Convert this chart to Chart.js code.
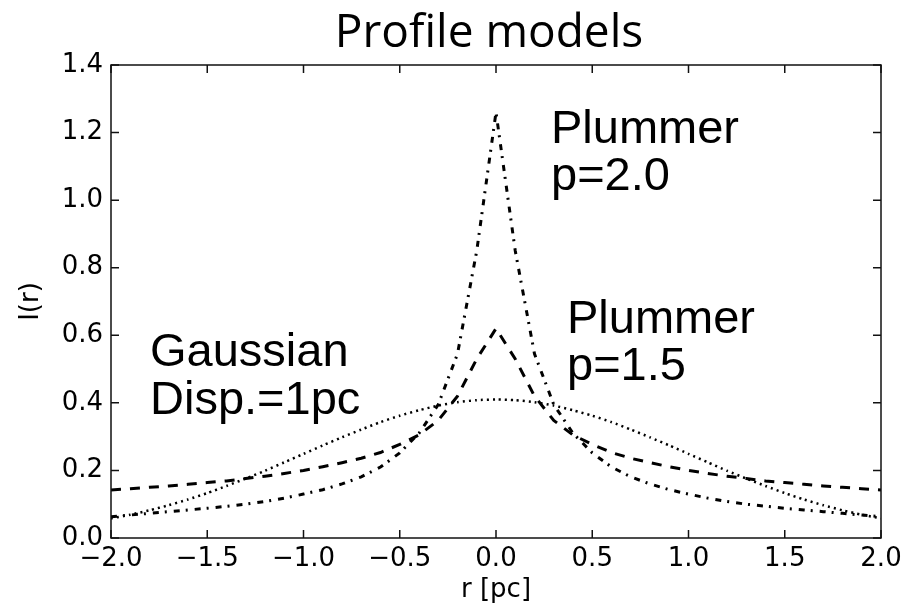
<!DOCTYPE html>
<html>
<head>
<meta charset="utf-8">
<script src="https://cdn.jsdelivr.net/npm/chart.js@4"></script>
<style>
  html, body { margin: 0; padding: 0; background: #fff; }
  #wrap { width: 920px; height: 613px; }
</style>
</head>
<body>
<div id="wrap"><canvas id="profileChart" width="920" height="613"></canvas></div>
<script>
const radius = [-2.0, -1.9, -1.8, -1.7, -1.6, -1.5, -1.4, -1.3, -1.2, -1.1, -1.0, -0.9, -0.8, -0.7, -0.6, -0.5, -0.4, -0.3, -0.2, -0.1,
    0.0, 0.1, 0.2, 0.3, 0.4, 0.5, 0.6, 0.7, 0.8, 0.9, 1.0, 1.1, 1.2, 1.3, 1.4, 1.5, 1.6, 1.7, 1.8, 1.9, 2.0];

const gaussian = [0.058, 0.069, 0.082, 0.097, 0.114, 0.133, 0.154, 0.176, 0.199, 0.224, 0.249, 0.274, 0.298, 0.321, 0.343, 0.362, 0.378, 0.392, 0.402, 0.408,
    0.41, 0.408, 0.402, 0.392, 0.378, 0.362, 0.343, 0.321, 0.298, 0.274, 0.249, 0.224, 0.199, 0.176, 0.154, 0.133, 0.114, 0.097, 0.082, 0.069, 0.058];

const plummer15 = [0.142, 0.146, 0.15, 0.154, 0.159, 0.164, 0.169, 0.176, 0.183, 0.191, 0.2, 0.211, 0.223, 0.236, 0.253, 0.277, 0.305, 0.348, 0.42, 0.53,
    0.62, 0.53, 0.42, 0.348, 0.305, 0.277, 0.253, 0.236, 0.223, 0.211, 0.2, 0.191, 0.183, 0.176, 0.169, 0.164, 0.159, 0.154, 0.15, 0.146, 0.142];

const plummer20 = [0.063, 0.068, 0.073, 0.078, 0.083, 0.088, 0.094, 0.1, 0.108, 0.118, 0.13, 0.143, 0.16, 0.181, 0.21, 0.252, 0.31, 0.395, 0.545, 0.85,
    1.26, 0.85, 0.545, 0.395, 0.31, 0.252, 0.21, 0.181, 0.16, 0.143, 0.13, 0.118, 0.108, 0.1, 0.094, 0.088, 0.083, 0.078, 0.073, 0.068, 0.063];

const xTicks = [-2.0, -1.5, -1.0, -0.5, 0.0, 0.5, 1.0, 1.5, 2.0];
const yTicks = [0.0, 0.2, 0.4, 0.6, 0.8, 1.0, 1.2, 1.4];

const toPoints = (values) => radius.map((r, i) => ({ x: r, y: values[i] }));
const fmt = (v) => v.toFixed(1).replace('-', '\u2212');

const tickFont = { family: 'DejaVu Sans', size: 26 };
const labelFont = '47px "Liberation Sans", Arial, sans-serif';

// matplotlib-like box with inward ticks, plus the text labels
const frame = {
    id: 'frame',
    afterDatasetsDraw(chart) {
        const { ctx, chartArea: a, scales: { x, y } } = chart;
        ctx.save();
        ctx.strokeStyle = '#111';
        ctx.lineWidth = 1.5;
        ctx.strokeRect(a.left, a.top, a.right - a.left, a.bottom - a.top);
        ctx.beginPath();
        xTicks.forEach((t) => {
            const px = x.getPixelForValue(t);
            ctx.moveTo(px, a.bottom); ctx.lineTo(px, a.bottom - 8);
            ctx.moveTo(px, a.top); ctx.lineTo(px, a.top + 8);
        });
        yTicks.forEach((t) => {
            const py = y.getPixelForValue(t);
            ctx.moveTo(a.left, py); ctx.lineTo(a.left + 8, py);
            ctx.moveTo(a.right, py); ctx.lineTo(a.right - 8, py);
        });
        ctx.stroke();

        ctx.fillStyle = '#000';
        ctx.textBaseline = 'alphabetic';
        ctx.textAlign = 'center';
        ctx.font = '46px "Open Sans", "Noto Sans", sans-serif';
        ctx.fillText('Profile models', 489, 47);

        ctx.textAlign = 'left';
        ctx.font = labelFont;
        ctx.fillText('Plummer', 551, 143);
        ctx.fillText('p=2.0', 551, 190);
        ctx.fillText('Plummer', 567, 333);
        ctx.fillText('p=1.5', 567, 380);
        ctx.fillText('Gaussian', 150, 366);
        ctx.fillText('Disp.=1pc', 150, 414);
        ctx.restore();
    }
};

new Chart(document.getElementById('profileChart'), {
    type: 'line',
    data: {
        datasets: [
            {
                label: 'Gaussian',
                data: toPoints(gaussian),
                borderColor: '#000',
                borderWidth: 2.5,
                borderDash: [2, 4],
                pointRadius: 0,
                tension: 0.2
            },
            {
                label: 'Plummer p=1.5',
                data: toPoints(plummer15),
                borderColor: '#000',
                borderWidth: 3,
                borderDash: [10, 9],
                pointRadius: 0,
                tension: 0
            },
            {
                label: 'Plummer p=2.0',
                data: toPoints(plummer20),
                borderColor: '#000',
                borderWidth: 3,
                borderDash: [6, 6, 2, 7],
                pointRadius: 0,
                tension: 0
            }
        ]
    },
    options: {
        responsive: false,
        animation: false,
        layout: { padding: { top: 65, right: 39, left: 0, bottom: 0 } },
        plugins: {
            legend: { display: false },
            tooltip: { enabled: false }
        },
        scales: {
            x: {
                type: 'linear',
                min: -2,
                max: 2,
                afterFit: (scale) => { scale.height = 75; },
                afterBuildTicks: (scale) => { scale.ticks = xTicks.map((v) => ({ value: v })); },
                grid: { display: false, drawTicks: false },
                border: { display: false },
                ticks: {
                    color: '#000',
                    font: tickFont,
                    padding: 6,
                    maxRotation: 0,
                    autoSkip: false,
                    callback: (v) => fmt(v)
                },
                title: {
                    display: true,
                    text: 'r [pc]',
                    color: '#000',
                    font: { family: 'DejaVu Sans', size: 26 },
                    padding: { top: 0, bottom: 7 }
                }
            },
            y: {
                min: 0,
                max: 1.4,
                afterFit: (scale) => { scale.width = 111; },
                afterBuildTicks: (scale) => { scale.ticks = yTicks.map((v) => ({ value: v })); },
                grid: { display: false, drawTicks: false },
                border: { display: false },
                ticks: {
                    color: '#000',
                    font: tickFont,
                    padding: 8,
                    autoSkip: false,
                    callback: (v) => fmt(v)
                },
                title: {
                    display: true,
                    text: 'I(r)',
                    color: '#000',
                    font: { family: 'DejaVu Sans', size: 26 },
                    padding: { top: 16, bottom: 0 }
                }
            }
        }
    },
    plugins: [frame]
});
</script>
</body>
</html>
